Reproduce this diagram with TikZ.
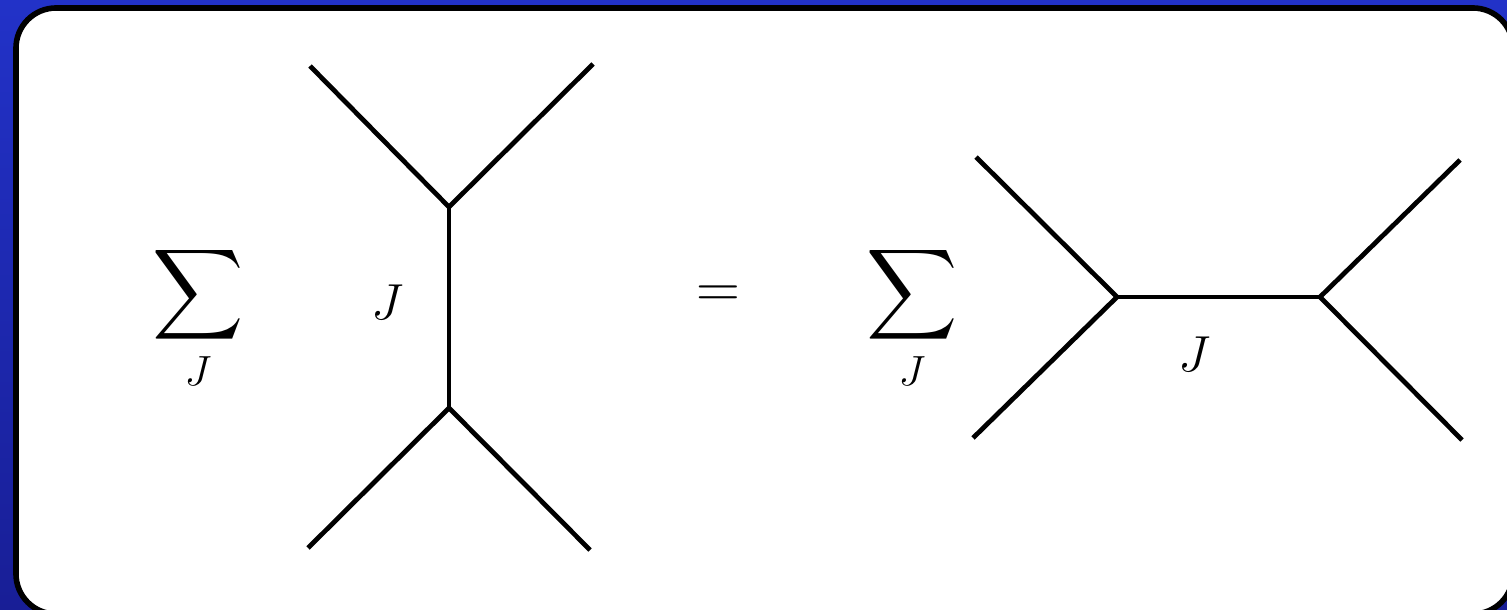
\documentclass[tikz,border=0pt]{standalone}
\usepackage{amsmath,amssymb}
\usetikzlibrary{positioning,calc}
\definecolor{bgtop}{RGB}{34,50,200}
\definecolor{bgbot}{RGB}{24,30,150}
\tikzset{
  leg/.style={line width=1.35pt, line cap=butt},
  lbl/.style={font=\fontsize{15.5}{18}\selectfont, inner sep=0pt},
}
\begin{document}
\begin{tikzpicture}[x=0.01cm, y=-0.01cm]
% background and white panel
\useasboundingbox (0,0) rectangle (1507,610);
\shade[top color=bgtop, bottom color=bgbot] (0,0) rectangle (1507,610);
\draw[line width=1.6pt, fill=white, rounded corners=0.4cm] (16,8) rectangle (1513,614);
% left sum
\node[inner sep=0pt, font=\fontsize{18}{22}\selectfont] (sumA) at (198,318) {$\displaystyle\sum_J$};
% s-channel vertices
\coordinate (up) at (449,207);
\coordinate (dn) at (449,408);
\coordinate (a1) at (310,66);
\coordinate (a2) at (593,64);
\coordinate (a3) at (308,548);
\coordinate (a4) at (590,550);
\draw[leg] (a1) -- (up) -- (a2);
\draw[leg] (up) -- (dn);
\draw[leg] (a3) -- (dn) -- (a4);
\node[lbl] (jA) at (388,302) {$J$};
% equals
\node[inner sep=0pt, font=\fontsize{16}{20}\selectfont] (eq) at (718,297) {$=$};
% right sum
\node[inner sep=0pt, font=\fontsize{18}{22}\selectfont] (sumB) at (912,318) {$\displaystyle\sum_J$};
% t-channel vertices
\coordinate (lf) at (1117,297);
\coordinate (rt) at (1320,297);
\coordinate (b1) at (976,157);
\coordinate (b2) at (973,438);
\coordinate (b3) at (1460,160);
\coordinate (b4) at (1462,440);
\draw[leg] (b1) -- (lf) -- (b2);
\draw[leg] (lf) -- (rt);
\draw[leg] (b3) -- (rt) -- (b4);
\node[lbl] (jB) at (1195,354) {$J$};
\end{tikzpicture}
\end{document}
